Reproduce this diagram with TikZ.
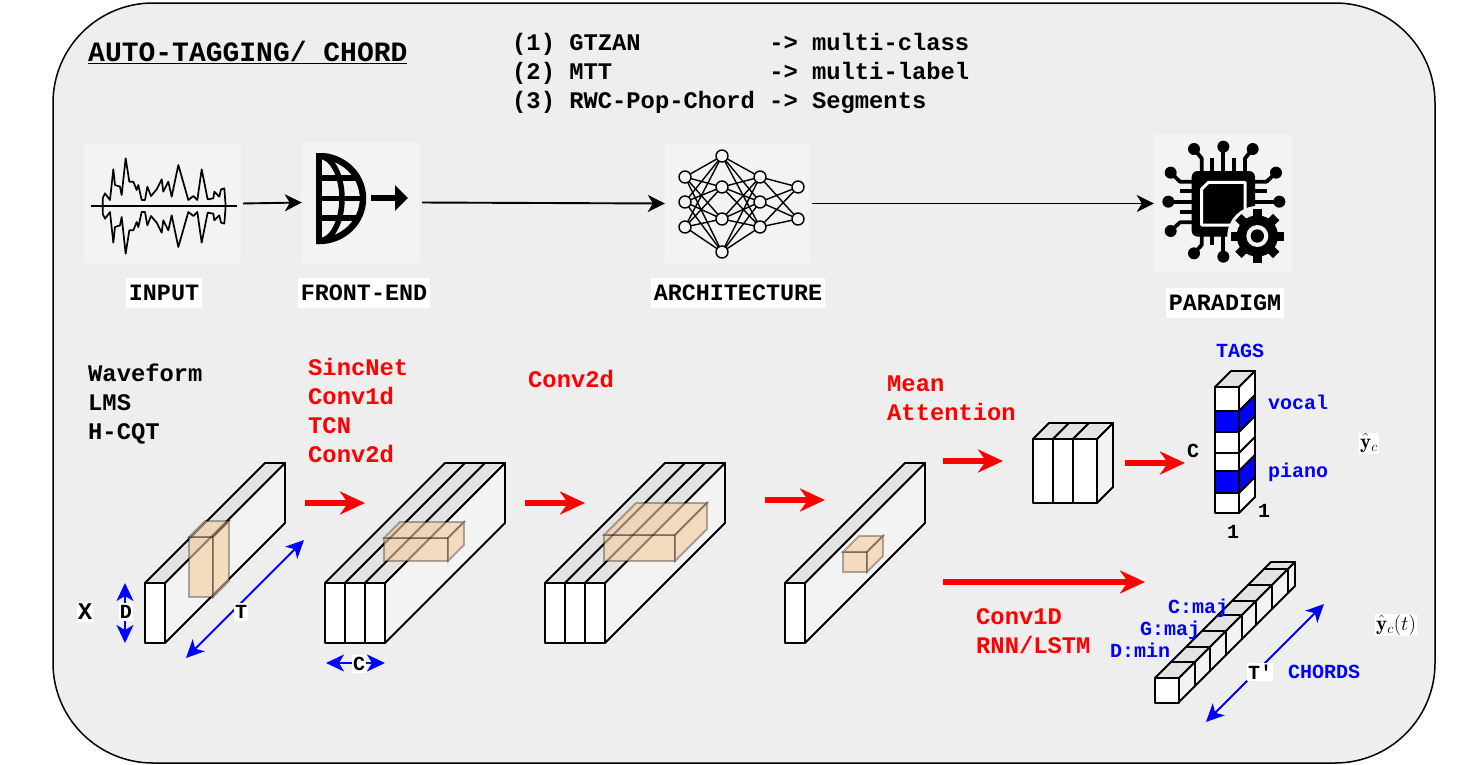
\documentclass[tikz,border=0pt]{standalone}
\usepackage{fontspec}
\setmonofont{Liberation Mono}
\usetikzlibrary{arrows.meta,calc}
\definecolor{panelfill}{HTML}{EEEEEE}
\definecolor{tilefill}{HTML}{F3F3F6}
\definecolor{slabtop}{HTML}{E3E3E3}
\definecolor{slabside}{HTML}{F3F3F3}
\definecolor{patchfill}{HTML}{F5CBA0}
\definecolor{redflow}{HTML}{FF0000}
\definecolor{blueflow}{HTML}{0000FF}
\tikzset{
  panel/.style={
    rectangle, draw=black, fill=panelfill, line width=1.5pt,
    rounded corners=100pt, minimum width=1382pt, minimum height=760pt
  },
  icontile/.style={rectangle, fill=tilefill, inner sep=0pt},
  steplabel/.style={
    fill=white, inner xsep=3pt, inner ysep=0pt, minimum height=30pt,
    font=\ttfamily\bfseries\fontsize{23.4}{28}\selectfont
  },
  listtext/.style={
    anchor=north west, align=left, inner sep=0pt,
    font=\ttfamily\bfseries\fontsize{23.8}{29}\selectfont
  },
  smalltext/.style={
    anchor=west, inner sep=0pt, text=blueflow,
    font=\ttfamily\bfseries\fontsize{20}{24}\selectfont
  },
  dimlabel/.style={
    fill=white, inner xsep=1pt, inner ysep=2pt,
    font=\ttfamily\bfseries\fontsize{20}{24}\selectfont
  },
  flow/.style={
    -{Stealth[length=17pt,width=17pt,inset=5pt]}, draw=black, line width=1.9pt
  },
  bigflow/.style={
    -{Stealth[length=25pt,width=23pt,inset=8pt]}, draw=redflow, line width=5.5pt
  },
  dimflow/.style={
    {Stealth[length=18pt,width=17pt,inset=5pt]}-{Stealth[length=18pt,width=17pt,inset=5pt]},
    draw=blueflow, line width=1.9pt
  },
  slabline/.style={draw=black, line width=1.9pt, line join=round},
  patchline/.style={
    draw=black, draw opacity=0.3, fill=patchfill, fill opacity=0.62, line width=1.9pt
  },
  neuron/.style={
    circle, draw=black, fill=tilefill, line width=1.4pt,
    minimum size=12pt, inner sep=0pt
  },
  chiplead/.style={draw=black, line width=3.8pt},
  chippin/.style={circle, fill=black, minimum size=12pt, inner sep=0pt}
}

\begin{document}
\begin{tikzpicture}[x=1pt,y=-1pt]
  \useasboundingbox (0,0) rectangle (1468,764);
  \node[panel] (panel) at (744,383) {};

  \node[listtext,font=\ttfamily\bfseries\fontsize{28}{30}\selectfont] (title) at (88,41)
    {\underline{AUTO-TAGGING/ CHORD}};
  \node[listtext] (datasets) at (512,33)
    {(1) GTZAN~~~~~~~~~-> multi-class\\(2) MTT~~~~~~~~~~~-> multi-label\\(3) RWC-Pop-Chord -> Segments};

  \node[icontile,minimum width=157pt,minimum height=119pt] (input) at (162.5,203.5) {};
  \node[icontile,minimum width=118pt,minimum height=121pt] (frontend) at (361,202.5) {};
  \node[icontile,minimum width=145pt,minimum height=119pt] (arch) at (737.5,203.5) {};
  \node[icontile,minimum width=138pt,minimum height=139pt] (paradigm) at (1223,203.5) {};
  \node[steplabel] (inputlabel) at (164,293) {INPUT};
  \node[steplabel] (frontendlabel) at (364,293) {FRONT-END};
  \node[steplabel] (archlabel) at (738,293) {ARCHITECTURE};
  \node[steplabel] (paradigmlabel) at (1225,303) {PARADIGM};

  \draw[flow,shorten <=2pt] (input.east) -- (frontend.west);
  \draw[flow,shorten <=2pt] (frontend.east) -- (arch.west);
  \draw[flow,shorten <=2pt] (arch.east) -- (paradigm.west);

  % waveform icon, lower half is the upper one flipped
  \begin{scope}[shift={(60,130)},scale=1/3]
    \foreach \flip in {1,-1} {
      \begin{scope}[shift={(0,228)},yscale=\flip]
        \draw[line width=1.7pt,line join=round]
          plot coordinates {(128,0) (128,-23) (135,-38) (150,-18) (160,-110) (165,-63) (180,-58)
            (185,-33) (197,-143) (208,-73) (220,-73) (230,-48) (235,-63) (245,-18) (255,-18)
            (262,-58) (273,-30) (290,-50) (305,-80) (310,-43) (325,-73) (335,-28) (355,-123)
            (385,-18) (400,-30) (412,-18) (425,-110) (443,-20) (460,-23) (463,-43) (478,-28)
            (483,-50) (493,-53) (497,0)};
      \end{scope}
    }
    \draw[line width=1.7pt] (94,228) -- (530,228);
  \end{scope}

  % globe icon
  \begin{scope}
    \clip (316,153) rectangle (366,244);
    \draw[line width=6.5pt,fill=none] (319,198.5) ellipse [x radius=44,y radius=42.5];
    \draw[line width=5.5pt] (319,198.5) ellipse [x radius=23,y radius=42.5];
    \foreach \gy in {178,198.5,218}
      \draw[line width=5.5pt] (316,\gy) -- (360,\gy);
  \end{scope}
  \draw[line width=6.5pt] (319,156) -- (319,241);
  \draw[line width=6.5pt,-{Triangle[length=13pt,width=25pt]}] (371,198) -- (408,198);

  % network icon
  \foreach \nx/\ny/\nid in {685/177/a1,685/202/a2,685/227/a3,
      722/156/b1,722/187/b2,722/219/b3,722/252/b4,
      760/177/c1,760/202/c2,760/227/c3,798/187/d1,798/219/d2}
    \coordinate (\nid) at (\nx,\ny);
  \foreach \na in {a1,a2,a3}
    \foreach \nb in {b1,b2,b3,b4}
      \draw[line width=1.4pt] (\na) -- (\nb);
  \foreach \nb in {b1,b2,b3,b4}
    \foreach \nc in {c1,c2,c3}
      \draw[line width=1.4pt] (\nb) -- (\nc);
  \foreach \nc in {c1,c2,c3}
    \foreach \nd in {d1,d2}
      \draw[line width=1.4pt] (\nc) -- (\nd);
  \foreach \nid in {a1,a2,a3,b1,b2,b3,b4,c1,c2,c3,d1,d2}
    \node[neuron] at (\nid) {};

  % chip icon
  \begin{scope}[shift={(1140,125)},scale=1/3]
    \foreach \lx/\ly/\mx/\my/\ex/\ey in {162/72/185/100/185/150,338/72/315/100/315/150,
        92/143/120/170/170/170,92/318/120/292/170/292,408/143/380/170/330/170,
        162/385/185/360/185/320}
      \draw[chiplead,line join=round] (\lx,\ly) -- (\mx,\my) -- (\ex,\ey);
    \foreach \lx/\ly/\ex/\ey in {250/65/250/150,85/230/170/230,418/230/330/230,250/395/250/320,
        217/100/217/150,283/100/283/150,120/198/170/198,120/262/170/262,380/198/330/198,217/360/217/320}
      \draw[chiplead] (\lx,\ly) -- (\ex,\ey);
    \foreach \lx/\ly in {162/72,250/65,338/72,92/143,85/230,92/318,408/143,418/230,162/385,250/395}
      \node[chippin] at (\lx,\ly) {};
    \fill[black,rounded corners=6pt] (155,138) rectangle (345,335);
    \draw[white,line width=3pt,fill=black,line join=round] (205,172) -- (315,172) -- (315,300)
      -- (185,300) -- (185,192) -- cycle;
    \fill[tilefill] (352,333) circle [radius=90];
    \foreach \ga in {0,45,...,315}
      \draw[black,line width=9pt] (352,333) -- ++(\ga:80);
    \fill[black] (352,333) circle [radius=62];
    \fill[tilefill] (352,333) circle [radius=33];
    \fill[black] (352,333) circle [radius=20];
  \end{scope}

  \node[listtext] (inputs) at (88,364) {Waveform\\LMS\\H-CQT};
  \node[listtext,text=redflow] (frontends) at (308,358) {SincNet\\Conv1d\\TCN\\Conv2d};
  \node[listtext,text=redflow] (conv) at (528,370) {Conv2d};
  \node[listtext,text=redflow] (pooling) at (887,376) {Mean\\Attention};
  \node[listtext,text=redflow] (temporal) at (976,608) {Conv1D\\RNN/LSTM};

  % feature blocks: x of the front face / number of channels
  \foreach \sx/\sn in {145/1,325/3,545/3,785/1} {
    \pgfmathsetmacro{\sw}{20*\sn}
    \draw[slabline,fill=slabside] (\sx+\sw,583) -- ++(120,-120) -- ++(0,60) -- ++(-120,120) -- cycle;
    \foreach \si in {1,...,\sn} {
      \pgfmathsetmacro{\sl}{\sx+20*(\si-1)}
      \draw[slabline,fill=slabtop] (\sl,583) -- ++(120,-120) -- ++(20,0) -- ++(-120,120) -- cycle;
      \draw[slabline,fill=white] (\sl,583) rectangle ++(20,60);
    }
  }

  % filter patches: x/y of the front face, width, height, depth
  \foreach \px/\py/\pw/\ph/\pd in {189/537/24/60/16,384/538/64/23/16,604/535/71/26/32,843/552/24/20/16} {
    \draw[patchline] (\px,\py) rectangle ++(\pw,\ph);
    \draw[patchline] (\px,\py) -- ++(\pd,-\pd) -- ++(\pw,0) -- ++(-\pd,\pd) -- cycle;
    \draw[patchline] (\px+\pw,\py) -- ++(\pd,-\pd) -- ++(0,\ph) -- ++(-\pd,\pd) -- cycle;
  }

  % pooled block
  \draw[slabline,fill=slabside] (1097,439) -- ++(16,-16) -- ++(0,64) -- ++(-16,16) -- cycle;
  \foreach \bx/\bw in {1033/20,1053/20,1073/24} {
    \draw[slabline,fill=slabtop] (\bx,439) -- ++(16,-16) -- ++(\bw,0) -- ++(-16,16) -- cycle;
    \draw[slabline,fill=white] (\bx,439) rectangle ++(\bw,64);
  }

  % tag column
  \draw[slabline,fill=slabtop] (1215,387) -- ++(16,-16) -- ++(24,0) -- ++(-16,16) -- cycle;
  \foreach \cy/\ch/\cc in {387/24/white,411/21/blueflow,432/21/white,453/18/white,471/22/blueflow,493/20/white} {
    \draw[slabline,fill=\cc] (1239,\cy) -- ++(16,-16) -- ++(0,\ch) -- ++(-16,16) -- cycle;
    \draw[slabline,fill=\cc] (1215,\cy) rectangle ++(24,\ch);
  }

  % chord strip, back to front
  \foreach \co/\cd in {109/7,93/16,77/16,63/14,47/16,31/16,16/15,0/16} {
    \draw[slabline,fill=slabtop] (1155+\co,678-\co) -- ++(\cd,-\cd) -- ++(24,0) -- ++(-\cd,\cd) -- cycle;
    \draw[slabline,fill=slabside] (1179+\co,678-\co) -- ++(\cd,-\cd) -- ++(0,24) -- ++(-\cd,\cd) -- cycle;
  }
  \draw[slabline,fill=white] (1155,678) rectangle ++(24,25);

  \coordinate (arrowa) at (305,503);
  \coordinate (arrowb) at (365,503);
  \coordinate (arrowc) at (525,503);
  \coordinate (arrowd) at (585,503);
  \coordinate (arrowe) at (765,500);
  \coordinate (arrowf) at (825,500);
  \coordinate (arrowg) at (943,461);
  \coordinate (arrowh) at (1003,461);
  \coordinate (arrowi) at (1125,463);
  \coordinate (arrowj) at (1185,463);
  \coordinate (arrowk) at (943,582);
  \coordinate (arrowl) at (1145,582);
  \draw[bigflow] (arrowa) -- (arrowb);
  \draw[bigflow] (arrowc) -- (arrowd);
  \draw[bigflow] (arrowe) -- (arrowf);
  \draw[bigflow] (arrowg) -- (arrowh);
  \draw[bigflow] (arrowi) -- (arrowj);
  \draw[bigflow] (arrowk) -- (arrowl);

  \coordinate (dimdtop) at (125,583);
  \coordinate (dimdbot) at (125,643);
  \coordinate (dimcleft) at (326,663);
  \coordinate (dimcright) at (385,663);
  \coordinate (dimtlow) at (186,658);
  \coordinate (dimthigh) at (304,540);
  \coordinate (dimslow) at (1206,722);
  \coordinate (dimshigh) at (1324,604);
  \draw[dimflow] (dimdtop) -- (dimdbot);
  \draw[dimflow] (dimcleft) -- (dimcright);
  \draw[dimflow] (dimtlow) -- (dimthigh);
  \draw[dimflow] (dimslow) -- (dimshigh);
  \node[dimlabel] (dimd) at (126,612) {D};
  \node[dimlabel] (dimc) at (359,664) {C};
  \node[dimlabel] (dimt) at (241,612) {T};
  \node[dimlabel] (dims) at (1260,672) {T'};
  \node[dimlabel,font=\ttfamily\bfseries\fontsize{24}{28}\selectfont] (dimx) at (85,612) {X};

  \node[smalltext,anchor=center] (tags) at (1240,351) {TAGS};
  \node[smalltext] (vocal) at (1268,402) {vocal};
  \node[smalltext] (piano) at (1268,472) {piano};
  \node[smalltext,text=black] (classes) at (1187,451) {C};
  \node[smalltext,text=black] (onea) at (1258,511) {1};
  \node[smalltext,text=black] (oneb) at (1227,532) {1};
  \node[smalltext] (chordc) at (1168,608) {C:maj};
  \node[smalltext] (chordg) at (1140,630) {G:maj};
  \node[smalltext] (chordd) at (1110,650) {D:min};
  \node[smalltext] (chords) at (1288,672) {CHORDS};

  \node[fill=white,inner sep=1pt,font=\fontsize{21}{24}\selectfont] (ytags) at (1369,443) {$\hat{\mathbf{y}}_c$};
  \node[fill=white,inner sep=1pt,font=\fontsize{21}{24}\selectfont] (ychords) at (1396,625) {$\hat{\mathbf{y}}_c(t)$};
\end{tikzpicture}
\end{document}
